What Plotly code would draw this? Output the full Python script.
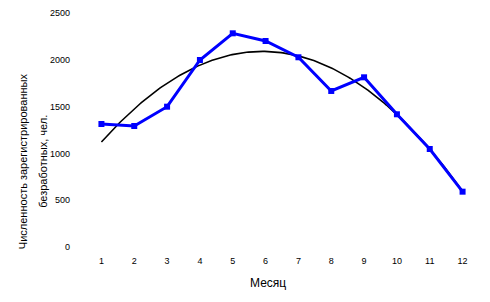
import numpy as np
import plotly.graph_objects as go

months = [1, 2, 3, 4, 5, 6, 7, 8, 9, 10, 11, 12]
unemployed = [1314, 1293, 1499, 1998, 2283, 2201, 2027, 1667, 1813, 1418, 1047, 591]
y_ticks = [0, 500, 1000, 1500, 2000, 2500]

coef = np.polyfit(months, unemployed, 2)
xs = np.linspace(1, 12, 200)
trend = np.polyval(coef, xs)

fig = go.Figure()
fig.add_trace(go.Scatter(x=xs, y=trend, mode="lines",
                         line=dict(color="black", width=1.6), showlegend=False))
fig.add_trace(go.Scatter(x=months, y=unemployed, mode="lines+markers",
                         line=dict(color="#0000FF", width=3),
                         marker=dict(symbol="square", size=6, color="#0000FF"),
                         showlegend=False, cliponaxis=False))

fig.update_layout(
    width=482, height=294,
    margin=dict(l=77, r=11, t=5, b=55, autoexpand=False),
    paper_bgcolor="white", plot_bgcolor="white",
    font=dict(family="Liberation Sans, Arial, sans-serif", size=9, color="black"),
    xaxis=dict(range=[0.5, 12.5], tickvals=months, ticktext=[str(m) for m in months],
               showgrid=False, zeroline=False, showline=False, ticks="",
               ticklabelstandoff=7, automargin=False),
    yaxis=dict(range=[0, 2500], tickvals=y_ticks, showgrid=False, zeroline=False,
               showline=False, ticks="", ticklabelstandoff=14, automargin=False),
    annotations=[
        dict(text="Численность зарегистрированных", textangle=-90,
             xref="paper", yref="paper", x=-0.157, y=0.3675,
             xanchor="center", yanchor="middle", showarrow=False,
             font=dict(size=11)),
        dict(text="безработных, чел.", textangle=-90,
             xref="paper", yref="paper", x=-0.107, y=0.3675,
             xanchor="center", yanchor="middle", showarrow=False,
             font=dict(size=11)),
        dict(text="Месяц", xref="paper", yref="paper", x=0.464, y=-0.154,
             xanchor="center", yanchor="middle", showarrow=False,
             font=dict(size=12)),
    ],
)

fig.write_html("out.html")
